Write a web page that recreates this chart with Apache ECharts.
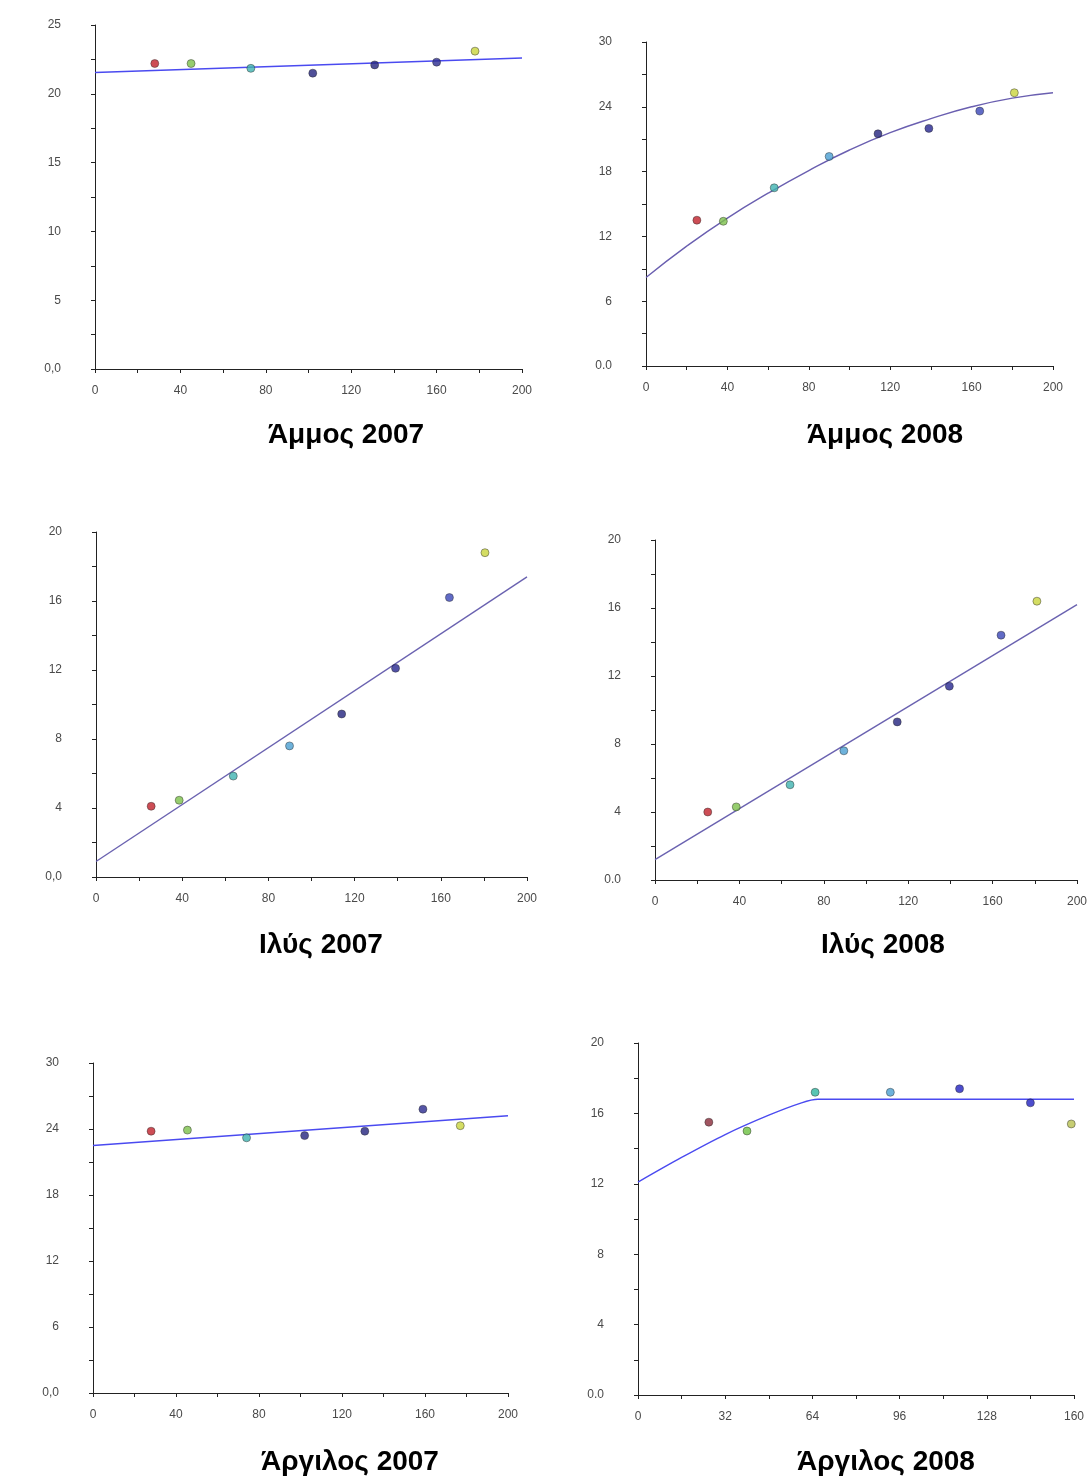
<!DOCTYPE html>
<html>
<head>
<meta charset="utf-8">
<title>Άμμος / Ιλύς / Άργιλος 2007-2008</title>
<script src="https://cdn.jsdelivr.net/npm/echarts@6/dist/echarts.min.js"></script>
<style>
  html, body { margin: 0; padding: 0; background: #fff; }
  #chart { width: 1092px; height: 1476px; }
</style>
</head>
<body>
<div id="chart"></div>
<script>
// --- data ---
const sand2007X = [28, 45, 73, 102, 131, 160, 178];
const sand2007Y = [22.2, 22.2, 21.85, 21.5, 22.1, 22.3, 23.1];
const sand2007FitX = [0, 200];
const sand2007FitY = [21.55, 22.6];

const sand2008X = [25, 38, 63, 90, 114, 139, 164, 181];
const sand2008Y = [13.5, 13.4, 16.5, 19.4, 21.5, 22.0, 23.6, 25.3];
const sand2008FitX = [0, 20, 40, 60, 80, 100, 120, 140, 160, 180, 200];
const sand2008FitY = [8.2, 11.1, 13.7, 16.0, 18.1, 20.0, 21.6, 22.9, 24.0, 24.8, 25.3];

const silt2007X = [25.6, 38.6, 63.7, 89.8, 114, 139, 164, 180.5];
const silt2007Y = [4.1, 4.45, 5.85, 7.6, 9.45, 12.1, 16.2, 18.8];
const silt2007FitX = [0, 200];
const silt2007FitY = [0.9, 17.4];

const silt2008X = [25, 38.5, 64, 89.5, 114.8, 139.5, 164, 181];
const silt2008Y = [4.0, 4.3, 5.6, 7.6, 9.3, 11.4, 14.4, 16.4];
const silt2008FitX = [0, 200];
const silt2008FitY = [1.2, 16.2];

const clay2007X = [28, 45.5, 74, 102, 131, 159, 177];
const clay2007Y = [23.8, 23.9, 23.2, 23.4, 23.8, 25.8, 24.3];
const clay2007FitX = [0, 200];
const clay2007FitY = [22.5, 25.2];

const clay2008X = [26, 40, 65, 92.6, 118, 144, 159];
const clay2008Y = [15.5, 15.0, 17.2, 17.2, 17.4, 16.6, 15.4];
const clay2008FitX = [0, 16, 32, 48, 60, 66, 160];
const clay2008FitY = [12.1, 13.5, 14.8, 15.9, 16.6, 16.8, 16.8];

// marker colours, one per point (styles kept apart from the values)
const COLORS7 = ["#c0202a", "#7cc04a", "#3fb3b0", "#23237e", "#23237e", "#2a2a90", "#c9d43c"];
const COLORS8 = ["#c0202a", "#7cc04a", "#3fb3b0", "#4a9fd2", "#23237e", "#262690", "#3a46b8", "#c9d43c"];
const COLORS_CLAY08 = ["#8a2a3a", "#6cc040", "#2fb6a0", "#4a9fd2", "#2020c0", "#2020c0", "#b8c050"];

const PANELS = [
  { title: "Άμμος 2007", x: sand2007X, y: sand2007Y, fx: sand2007FitX, fy: sand2007FitY,
    grid: [95, 25, 427, 344], xMax: 200, xStep: 20, xMajor: 40, yMax: 25, yStep: 2.5, yMajor: 5,
    zero: "0,0", colors: COLORS7, lineColor: "#4a4af0", smooth: false, titlePos: [346, 432] },
  { title: "Άμμος 2008", x: sand2008X, y: sand2008Y, fx: sand2008FitX, fy: sand2008FitY,
    grid: [646, 42, 407, 324], xMax: 200, xStep: 20, xMajor: 40, yMax: 30, yStep: 3, yMajor: 6,
    zero: "0.0", colors: COLORS8, lineColor: "#6a5fb0", smooth: true, titlePos: [885, 432] },
  { title: "Ιλύς 2007", x: silt2007X, y: silt2007Y, fx: silt2007FitX, fy: silt2007FitY,
    grid: [96, 532, 431, 345], xMax: 200, xStep: 20, xMajor: 40, yMax: 20, yStep: 2, yMajor: 4,
    zero: "0,0", colors: COLORS8, lineColor: "#6a62b0", smooth: false, titlePos: [321, 942] },
  { title: "Ιλύς 2008", x: silt2008X, y: silt2008Y, fx: silt2008FitX, fy: silt2008FitY,
    grid: [655, 540, 422, 340], xMax: 200, xStep: 20, xMajor: 40, yMax: 20, yStep: 2, yMajor: 4,
    zero: "0.0", colors: COLORS8, lineColor: "#6a62b0", smooth: false, titlePos: [883, 942] },
  { title: "Άργιλος 2007", x: clay2007X, y: clay2007Y, fx: clay2007FitX, fy: clay2007FitY,
    grid: [93, 1063, 415, 330], xMax: 200, xStep: 20, xMajor: 40, yMax: 30, yStep: 3, yMajor: 6,
    zero: "0,0", colors: COLORS7, lineColor: "#4a4af0", smooth: false, titlePos: [350, 1459] },
  { title: "Άργιλος 2008", x: clay2008X, y: clay2008Y, fx: clay2008FitX, fy: clay2008FitY,
    grid: [638, 1043, 436, 352], xMax: 160, xStep: 16, xMajor: 32, yMax: 20, yStep: 2, yMajor: 4,
    zero: "0.0", colors: COLORS_CLAY08, lineColor: "#4a4af0", smooth: 0.3, titlePos: [886, 1459] },
];

const isMajor = (v, major) => Math.abs(v / major - Math.round(v / major)) < 1e-6;

const AXIS_FONT = { fontFamily: "Liberation Sans, Arial, sans-serif", fontSize: 12, color: "#4a4a4a" };
const axisBase = {
  type: "value",
  splitLine: { show: false },
  axisLine: { show: true, onZero: false, lineStyle: { color: "#222", width: 1 } },
  axisTick: { show: true, length: 4, lineStyle: { color: "#222" } },
};

const chart = echarts.init(document.getElementById("chart"), null, { renderer: "canvas" });

const grid = [], xAxis = [], yAxis = [], series = [], title = [];
PANELS.forEach((p, i) => {
  const [left, top, width, height] = p.grid;
  grid.push({ left, top, width, height });
  xAxis.push({
    ...axisBase, gridIndex: i, min: 0, max: p.xMax, interval: p.xStep,
    axisLabel: { ...AXIS_FONT, margin: 16, showMaxLabel: true,
      formatter: v => isMajor(v, p.xMajor) ? String(v) : "" },
  });
  yAxis.push({
    ...axisBase, gridIndex: i, min: 0, max: p.yMax, interval: p.yStep,
    axisLabel: { ...AXIS_FONT, margin: 34,
      formatter: v => v === 0 ? p.zero : (isMajor(v, p.yMajor) ? String(v) : "") },
  });
  series.push({
    type: "line", xAxisIndex: i, yAxisIndex: i, smooth: p.smooth,
    showSymbol: false, silent: true,
    lineStyle: { color: p.lineColor, width: 1.4 },
    data: p.fx.map((x, k) => [x, p.fy[k]]),
    z: 2,
  });
  series.push({
    type: "scatter", xAxisIndex: i, yAxisIndex: i, symbolSize: 8,
    data: p.x.map((x, k) => ({
      value: [x, p.y[k]],
      itemStyle: { color: p.colors[k], borderColor: "rgba(40,40,40,0.55)", borderWidth: 1 },
    })),
    z: 3,
  });
  title.push({
    text: p.title, left: p.titlePos[0] - 5, top: p.titlePos[1] - 16, textAlign: "center",
    textStyle: { fontFamily: "Liberation Sans, Arial, sans-serif", fontWeight: "bold",
      fontSize: 28, color: "#000" },
  });
});

chart.setOption({
  backgroundColor: "#fff",
  animation: false,
  title, grid, xAxis, yAxis, series,
});
window.addEventListener("resize", () => chart.resize());
</script>
</body>
</html>
